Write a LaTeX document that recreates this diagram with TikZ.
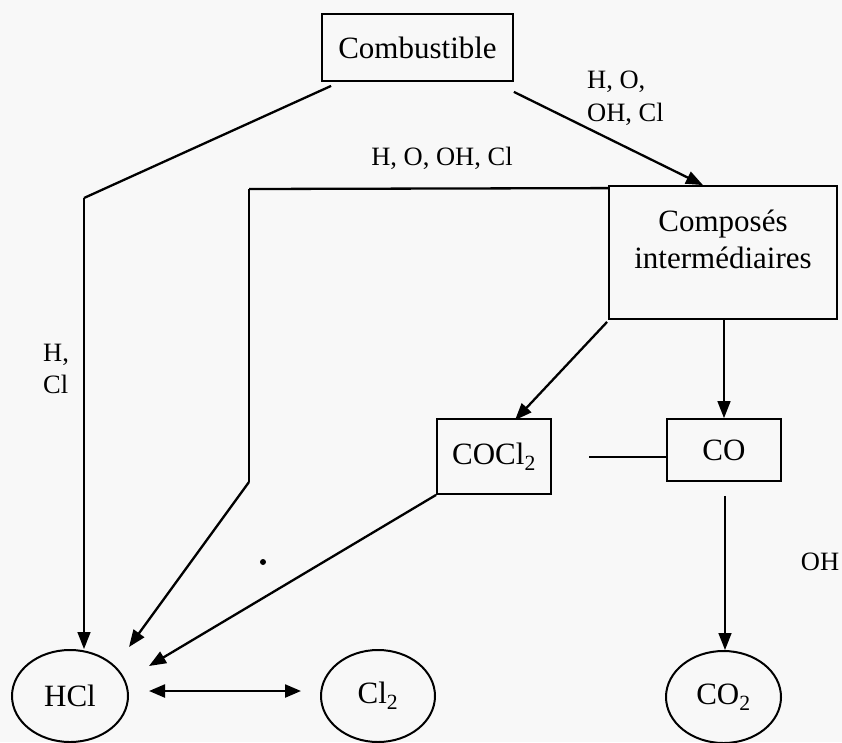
\documentclass[tikz,border=0pt]{standalone}
\usepackage{fontspec}
\setmainfont{Liberation Serif}
\usetikzlibrary{arrows.meta,calc,shapes.geometric}
\definecolor{bgcol}{RGB}{248,248,248}
\tikzset{
  box/.style={draw,line width=1.8pt,inner sep=0pt,font=\fontsize{31}{36}\selectfont},
  oval/.style={draw,ellipse,line width=2pt,inner sep=0pt,font=\fontsize{31}{36}\selectfont},
  lbl/.style={font=\fontsize{26.5}{33}\selectfont,inner sep=0pt},
  conn/.style={line width=2.3pt},
  thinline/.style={line width=1.5pt},
  arr/.style={-{Triangle[length=17pt,width=13pt]}},
  darr/.style={{Triangle[length=16pt,width=13pt]}-{Triangle[length=16pt,width=13pt]}},
}
\begin{document}
\begin{tikzpicture}[x=1pt,y=-1pt]
\fill[bgcol] (0,0) rectangle (842,742);
\useasboundingbox (0,0) rectangle (842,742);

% boxes
\node[box,minimum width=191pt,minimum height=67pt] (comb) at (417.5,47.5) {Combustible};
\node[box,minimum width=228pt,minimum height=133pt] (comp) at (723,252.5) {};
\node[font=\fontsize{31}{37}\selectfont,align=center,inner sep=0pt] (compt) at (723,239) {Composés\\intermédiaires};
\node[box,minimum width=114pt,minimum height=75pt] (cocl) at (494,456.5) {COCl\textsubscript{2}};
\node[box,minimum width=114pt,minimum height=62pt] (co) at (724,450) {CO};

% ellipses
\node[oval,minimum width=116pt,minimum height=92pt] (hcl) at (70,696) {HCl};
\node[oval,minimum width=114pt,minimum height=92pt] (cl2) at (378,696) {Cl\textsubscript{2}};
\node[oval,minimum width=115pt,minimum height=92pt] (co2) at (723.5,697) {CO\textsubscript{2}};

% helper coordinates
\coordinate (k1) at (84,198);
\coordinate (k2) at (249,189);
\coordinate (k3) at (249,482);
\coordinate (t2) at (129,647);
\coordinate (t3) at (149,666);
\coordinate (s7) at (589,457);

% connectors
\draw[conn] ($(comb.south west)+(10,4)$) -- (k1);
\draw[thinline,arr] (k1) -- (k1 |- hcl.north);
\draw[conn,arr] ($(comb.south east)+(0,10)$) -- ($(comp.north)+(-20,0)$);
\draw[conn] ($(comp.north west)+(0,3)$) -- (k2);
\draw[thinline] (k2) -- (k3);
\draw[conn,arr] (k3) -- (t2);
\draw[conn,arr] ($(comp.south west)+(-1,2)$) -- ($(cocl.north)+(21,2)$);
\draw[thinline,arr] (comp.south -| co.north) -- (co.north);
\draw[conn,arr] (cocl.south west) -- (t3);
\draw[thinline] (s7) -- (s7 -| co.west);
\draw[thinline,arr] ($(co.south)+(1,14)$) -- ($(co2.north)+(1.5,0)$);
\draw[conn,darr] ($(hcl.east)+(20,-5)$) -- ($(cl2.west)+(-19,-5)$);

% labels
\node[lbl,align=left,anchor=west] (l1) at (587,98.5) {H, O,\\OH, Cl};
\node[lbl] (l2) at (442,158) {H, O, OH, Cl};
\node[lbl,align=left,anchor=west,font=\fontsize{26.5}{32}\selectfont] (l3) at (43,369) {H,\\Cl};
\node[lbl] (l4) at (820,562) {OH};
\node[circle,fill,inner sep=0pt,minimum size=6pt] (dot) at (263,562) {};
\end{tikzpicture}
\end{document}
